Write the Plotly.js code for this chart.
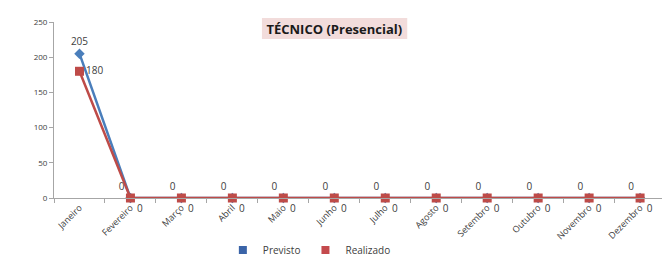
<!DOCTYPE html>
<html>
<head>
<meta charset="utf-8">
<script src="https://cdn.plot.ly/plotly-3.0.1.min.js"></script>
<style>html,body{margin:0;padding:0;background:#fff;}#chart{width:662px;height:260px;}</style>
</head>
<body>
<div id="chart"></div>
<script>
const months = ["Janeiro","Fevereiro","Março","Abril","Maio","Junho","Julho","Agosto","Setembro","Outubro","Novembro","Dezembro"];
const previsto = [205,0,0,0,0,0,0,0,0,0,0,0];
const realizado = [180,0,0,0,0,0,0,0,0,0,0,0];
const yTicks = [0,50,100,150,200,250];

const blue = "#4a7ebb", red = "#be4b48";
const labelFont = {family:"Open Sans, sans-serif", size:10, color:"#404040"};
const prevPos = months.map((m,i)=> i===0 ? "top center" : "top left");
const realPos = months.map((m,i)=> i===0 ? "middle right" : "bottom right");

const data = [
  {x: months, y: previsto, type:"scatter", mode:"lines+markers+text", name:"Previsto",
   line:{color:blue, width:2.5}, marker:{symbol:"diamond", size:8, color:blue},
   text: previsto.map(String), textposition: prevPos, textfont: labelFont,
   showlegend:false, cliponaxis:false, hoverinfo:"x+y"},
  {x: months, y: realizado, type:"scatter", mode:"lines+markers+text", name:"Realizado",
   line:{color:red, width:2.5}, marker:{symbol:"square", size:9, color:red},
   text: realizado.map(String), textposition: realPos, textfont: labelFont,
   showlegend:false, cliponaxis:false, hoverinfo:"x+y"},
  {x:[null], y:[null], type:"scatter", mode:"markers", name:"Previsto",
   marker:{symbol:"square", size:8, color:"#3a64a8"}, showlegend:true},
  {x:[null], y:[null], type:"scatter", mode:"markers", name:"Realizado",
   marker:{symbol:"square", size:8, color:"#c44a4d"}, showlegend:true}
];

const layout = {
  width:662, height:260,
  margin:{l:54, r:0, t:22, b:62, autoexpand:false},
  paper_bgcolor:"#fff", plot_bgcolor:"#fff",
  font:{family:"Open Sans, sans-serif", size:8, color:"#595959"},
  title:{text:"<b>TÉCNICO (Presencial)</b>", font:{family:"Open Sans, sans-serif", size:13, color:"#1a1a1a"},
         x:0.505, xanchor:"center", y:0.887, yanchor:"middle"},
  shapes:[{type:"rect", xref:"paper", yref:"paper", x0:0.342, x1:0.581, y0:0.903, y1:1.023,
           fillcolor:"#f2dcdb", line:{width:0}, layer:"below"}],
  xaxis:{type:"category", range:[-0.5, 11.43], showline:true, linecolor:"#a6a6a6", linewidth:1,
         ticks:"outside", tickson:"boundaries", ticklen:4, tickcolor:"#a6a6a6",
         tickangle:-45, tickfont:{size:9, color:"#404040"}, showgrid:false, zeroline:false, fixedrange:true},
  yaxis:{range:[0,250], tickvals:yTicks, ticktext:yTicks.map(String), showline:true, linecolor:"#a6a6a6", linewidth:1,
         ticks:"outside", ticklen:4, tickcolor:"#a6a6a6", tickfont:{size:8, color:"#404040"},
         showgrid:false, zeroline:false, fixedrange:true},
  legend:{orientation:"h", x:0.42, xanchor:"center", y:-0.295, yanchor:"middle", font:{size:10, color:"#404040"},
          itemwidth:30, tracegroupgap:0, bgcolor:"rgba(0,0,0,0)"},
  showlegend:true
};
Plotly.newPlot("chart", data, layout, {displayModeBar:false, staticPlot:true});
</script>
</body>
</html>
